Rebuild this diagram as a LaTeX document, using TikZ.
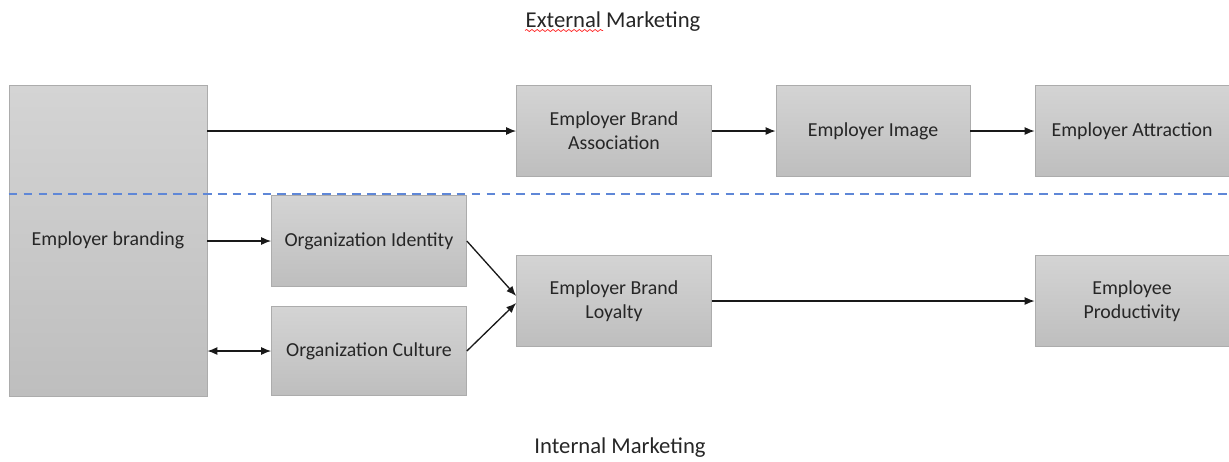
\documentclass[tikz,border=0pt]{standalone}
\usepackage{fontspec}
\setmainfont{Carlito}
\usetikzlibrary{arrows, arrows.meta, positioning, decorations.pathmorphing}

\definecolor{boxtop}{RGB}{212,212,212}
\definecolor{boxbot}{RGB}{190,190,190}
\definecolor{boxline}{RGB}{172,172,172}
\definecolor{divider}{RGB}{95,135,215}

\begin{document}
\begin{tikzpicture}[x=0.02cm, y=-0.02cm,
        every node/.style={font=\fontsize{11.3}{13.6}\selectfont, text=black!85},
        heading/.style={font=\fontsize{12.9}{15.5}\selectfont},
        block/.style={rectangle, draw=boxline, top color=boxtop, bottom color=boxbot,
            minimum width=3.9cm, minimum height=1.83cm, align=center, inner sep=0pt},
        link/.style={-{Latex[length=2mm, width=1.6mm]}, line width=0.75pt, black!90}]
    \useasboundingbox (0,0) rectangle (1229,461);

    % headings
    \node[heading] (ext) at (613,22) {External Marketing};
    \node[heading] (int) at (620,448) {Internal Marketing};
    \draw[red!85, decorate, decoration={snake, amplitude=0.6pt, segment length=3pt}]
        (525,30.5) -- (603,30.5);

    % blocks
    \node[block, minimum width=3.96cm, minimum height=6.22cm] (brand) at (108,240.5) {Employer branding};
    \node[block] (assoc) at (614,131) {Employer Brand\\Association};
    \node[block, minimum width=3.88cm] (image) at (873,131) {Employer Image};
    \node[block, minimum width=3.88cm] (attract) at (1132,131) {Employer Attraction};
    \node[block] (ident) at (369,241) {Organization Identity};
    \node[block, minimum height=1.78cm] (culture) at (369,351) {Organization Culture};
    \node[block] (loyal) at (614,301) {Employer Brand\\Loyalty};
    \node[block, minimum width=3.88cm] (product) at (1132,301) {Employee\\Productivity};

    % external / internal divider
    \draw[divider, thick, dash pattern=on 5pt off 3.5pt] (brand.west |- 0,194) -- (1229,194);

    \path[link]
        (brand.east |- assoc) edge (assoc.west)
        (assoc) edge (image)
        (image) edge (attract)
        (brand.east |- ident) edge (ident.west)
        (ident.east) edge ([yshift=0.1cm]loyal.west)
        (culture.east) edge ([yshift=-0.04cm]loyal.west)
        (loyal) edge (product)
    ;
    \draw[link, {Latex[length=2mm, width=1.6mm]}-{Latex[length=2mm, width=1.6mm]}]
        (brand.east |- culture) -- (culture.west);
\end{tikzpicture}
\end{document}
